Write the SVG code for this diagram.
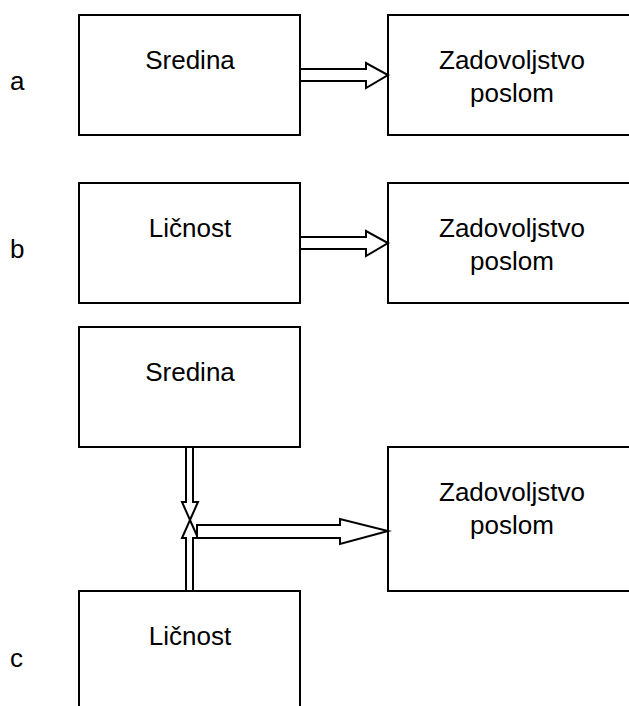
<svg xmlns="http://www.w3.org/2000/svg" width="629" height="706" viewBox="0 0 629 706">
<style>
.box{fill:#fff;stroke:#000;stroke-width:2}
.arr{fill:#fff;stroke:#000;stroke-width:2;stroke-linejoin:miter}
text{font-family:"Liberation Sans",Arial,sans-serif;font-size:26px;fill:#000}
.c{text-anchor:middle}
</style>
<rect width="629" height="706" fill="#fff"/>
<g id="label-a"><text x="10" y="90">a</text></g>
<g id="label-b"><text x="10" y="258">b</text></g>
<g id="label-c"><text x="10" y="667">c</text></g>
<g id="a-sredina"><rect class="box" x="79" y="15" width="221" height="120"/><text class="c" x="190" y="69">Sredina</text></g>
<g id="a-zadovoljstvo"><rect class="box" x="388" y="15" width="260" height="120"/><text class="c" x="512" y="69">Zadovoljstvo</text><text class="c" x="512" y="102">poslom</text></g>
<g id="b-licnost"><rect class="box" x="79" y="183" width="221" height="120"/><text class="c" x="190" y="237">Ličnost</text></g>
<g id="b-zadovoljstvo"><rect class="box" x="388" y="183" width="260" height="120"/><text class="c" x="512" y="237">Zadovoljstvo</text><text class="c" x="512" y="270">poslom</text></g>
<g id="c-sredina"><rect class="box" x="79" y="327" width="221" height="120"/><text class="c" x="190" y="381">Sredina</text></g>
<g id="c-zadovoljstvo"><rect class="box" x="388" y="447" width="260" height="144"/><text class="c" x="512" y="501">Zadovoljstvo</text><text class="c" x="512" y="534">poslom</text></g>
<g id="c-licnost"><rect class="box" x="79" y="591" width="221" height="140"/><text class="c" x="190" y="645">Ličnost</text></g>
<g id="connectors">
<polygon class="arr" points="300,69 366,69 366,63 388,75 366,88 366,81 300,81"/>
<polygon class="arr" points="300,237 366,237 366,231 388,243 366,256 366,249 300,249"/>
<polygon class="arr" points="186,447 193,447 193,502 198,502 190,520 182,502 186,502"/>
<polygon class="arr" points="186,591 193,591 193,538 198,538 190,520 182,538 186,538"/>
<polygon class="arr" points="197,525 340,525 340,519 388,531 340,544 340,538 197,538"/>
</g>
</svg>
